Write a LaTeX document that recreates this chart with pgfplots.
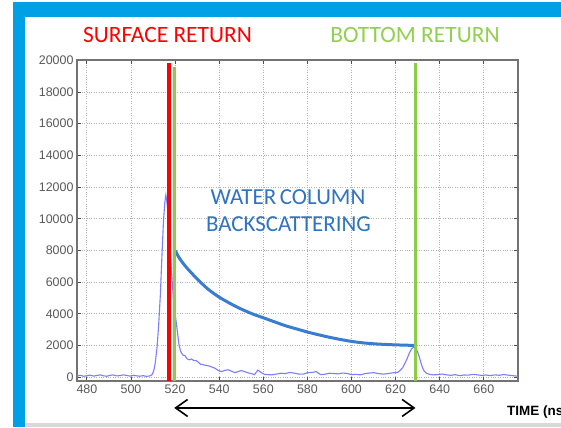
\documentclass[border=0pt]{standalone}
\usepackage{fontspec}
\setmainfont{Liberation Sans}
\newfontfamily\carlito{Carlito}
\usepackage{pgfplots}
\pgfplotsset{compat=1.18}
\usetikzlibrary{arrows.meta}
\definecolor{framebl}{RGB}{0,160,230}
\definecolor{wave}{RGB}{125,125,255}
\definecolor{curve}{RGB}{58,125,208}
\definecolor{txtblue}{RGB}{46,116,192}
\definecolor{lgreen}{RGB}{140,204,70}
\definecolor{tgreen}{RGB}{146,208,80}
\begin{document}
\begin{tikzpicture}[x=1bp,y=1bp]
\clip (0,0) rectangle (561,427);
\fill[white] (0,0) rectangle (561,427);
\fill[framebl] (13,410) rectangle (561,425);
\fill[framebl] (13,0) rectangle (25,425);
\fill[black!15] (25,0) rectangle (561,4);
\begin{axis}[
  at={(77bp,46bp)}, anchor=south west,
  scale only axis, width=441bp, height=321bp,
  xmin=475.5, xmax=675.5, ymin=-240, ymax=20020,
  xtick={480,500,...,660}, ytick={0,2000,...,20000},
  xtick pos=both, ytick pos=both, tick align=inside,
  major tick length=4bp,
  tick style={black!70, line width=0.9bp},
  axis line style={black!55, line width=1.5bp},
  grid=major,
  major grid style={black!30, dotted, line width=0.9bp},
  tick label style={font=\fontsize{12.5}{12.5}\selectfont, text=black!65},
  /pgf/number format/assume math mode=true,
  /pgf/number format/set thousands separator={},
  scaled y ticks=false,
  clip=false,
]
\addplot[wave, line width=1.1bp] coordinates {
(475.5,80) (477,120) (478.5,60) (480,90) (481.5,130) (483,70) (484.5,110) (486,150)
(487.5,90) (489,60) (490.5,120) (492,140) (493.5,80) (495,100) (496.5,150) (498,110)
(499.5,70) (501,120) (502.5,90) (504,60) (505.5,100) (507,50) (508.5,80) (509.5,150)
(510.3,400) (511,900) (511.8,1900) (512.5,3200) (513.3,5200) (514,7600) (514.7,9800)
(515.3,11000) (515.8,11500) (516.5,10800) (517.3,9000) (518.2,7000) (519.2,5000)
(520.2,3800) (521,2900) (521.8,2000) (522.6,1600) (523.5,1400) (524.5,1350) (525.5,1150)
(526.5,1100) (527.5,1150) (528.5,1050) (529.5,1050) (530.5,950) (531.5,820) (532.5,800)
(533.5,760) (535,720) (536.5,650) (538,570) (539.5,430) (541,350) (542.5,430) (544,470)
(545.5,380) (547,290) (548.5,350) (550,420) (551.5,350) (553,280) (554.5,230) (556,160)
(557.5,450) (559,300) (560.5,180) (562,160) (564,150) (566,200) (568,250) (570,230)
(572,300) (574,260) (576,200) (578,190) (580,280) (582,300) (584,350) (586,160) (588,190)
(590,250) (592,230) (594,210) (596,260) (598,240) (600,160) (602,180) (604,150) (606,220)
(608,260) (610,290) (612,230) (614.5,190) (617,240) (619,280) (620.8,300) (622,420)
(623.2,600) (624.3,900) (625.3,1200) (626.3,1550) (627.3,1800) (628.2,1900) (629,1850)
(629.8,1650) (630.6,1350) (631.4,950) (632.2,600) (633,380) (634,250) (635.5,170)
(637,150) (639,160) (641,200) (643,150) (645,120) (647,160) (649,100) (651,140) (653,130)
(655,180) (657,150) (659,110) (661,140) (663,100) (665,150) (667,120) (669,170) (671,130)
(673,100) (675.5,60)
};
\addplot[curve, line width=3bp, smooth] coordinates {
(520,8000) (522,7500) (525,6950) (530,6200) (535,5550) (540,5050) (545,4650) (550,4300)
(555,4000) (560,3750) (565,3500) (570,3250) (575,3050) (580,2850) (585,2680) (590,2520)
(595,2380) (600,2260) (605,2170) (610,2110) (615,2070) (620,2040) (625,2020) (629,2000)
};
\addplot[red, line width=3.7bp] coordinates {(517.3,-240) (517.3,19800)};
\addplot[lgreen, line width=3bp] coordinates {(519.6,-240) (519.6,19550)};
\addplot[lgreen, line width=3bp] coordinates {(629,-240) (629,19800)};
\draw[black, line width=1.6bp, {Straight Barb[length=12bp,width=17bp]}-{Straight Barb[length=12bp,width=17bp]}]
  (axis cs:519.6,-1940) -- (axis cs:629,-1940);
\end{axis}
\node[anchor=base, text=red, font=\carlito\fontsize{23.5}{23.5}\selectfont, inner sep=0] at (167.5,384.3) {SURFACE RETURN};
\node[anchor=base, text=tgreen, font=\carlito\fontsize{23.5}{23.5}\selectfont, inner sep=0] at (415,384.3) {BOTTOM RETURN};
\node[anchor=base, text=txtblue, font=\carlito\fontsize{23}{23}\selectfont, inner sep=0] at (288,223) {WATER\hspace{-1.5bp} COLUMN};
\node[anchor=base, text=txtblue, font=\carlito\fontsize{23}{23}\selectfont, inner sep=0] at (288.5,195.3) {BACKSCATTERING};
\node[anchor=base west, font=\bfseries\fontsize{13.5}{13.5}\selectfont, inner sep=0] at (507,12) {TIME (ns)};
\end{tikzpicture}
\end{document}
